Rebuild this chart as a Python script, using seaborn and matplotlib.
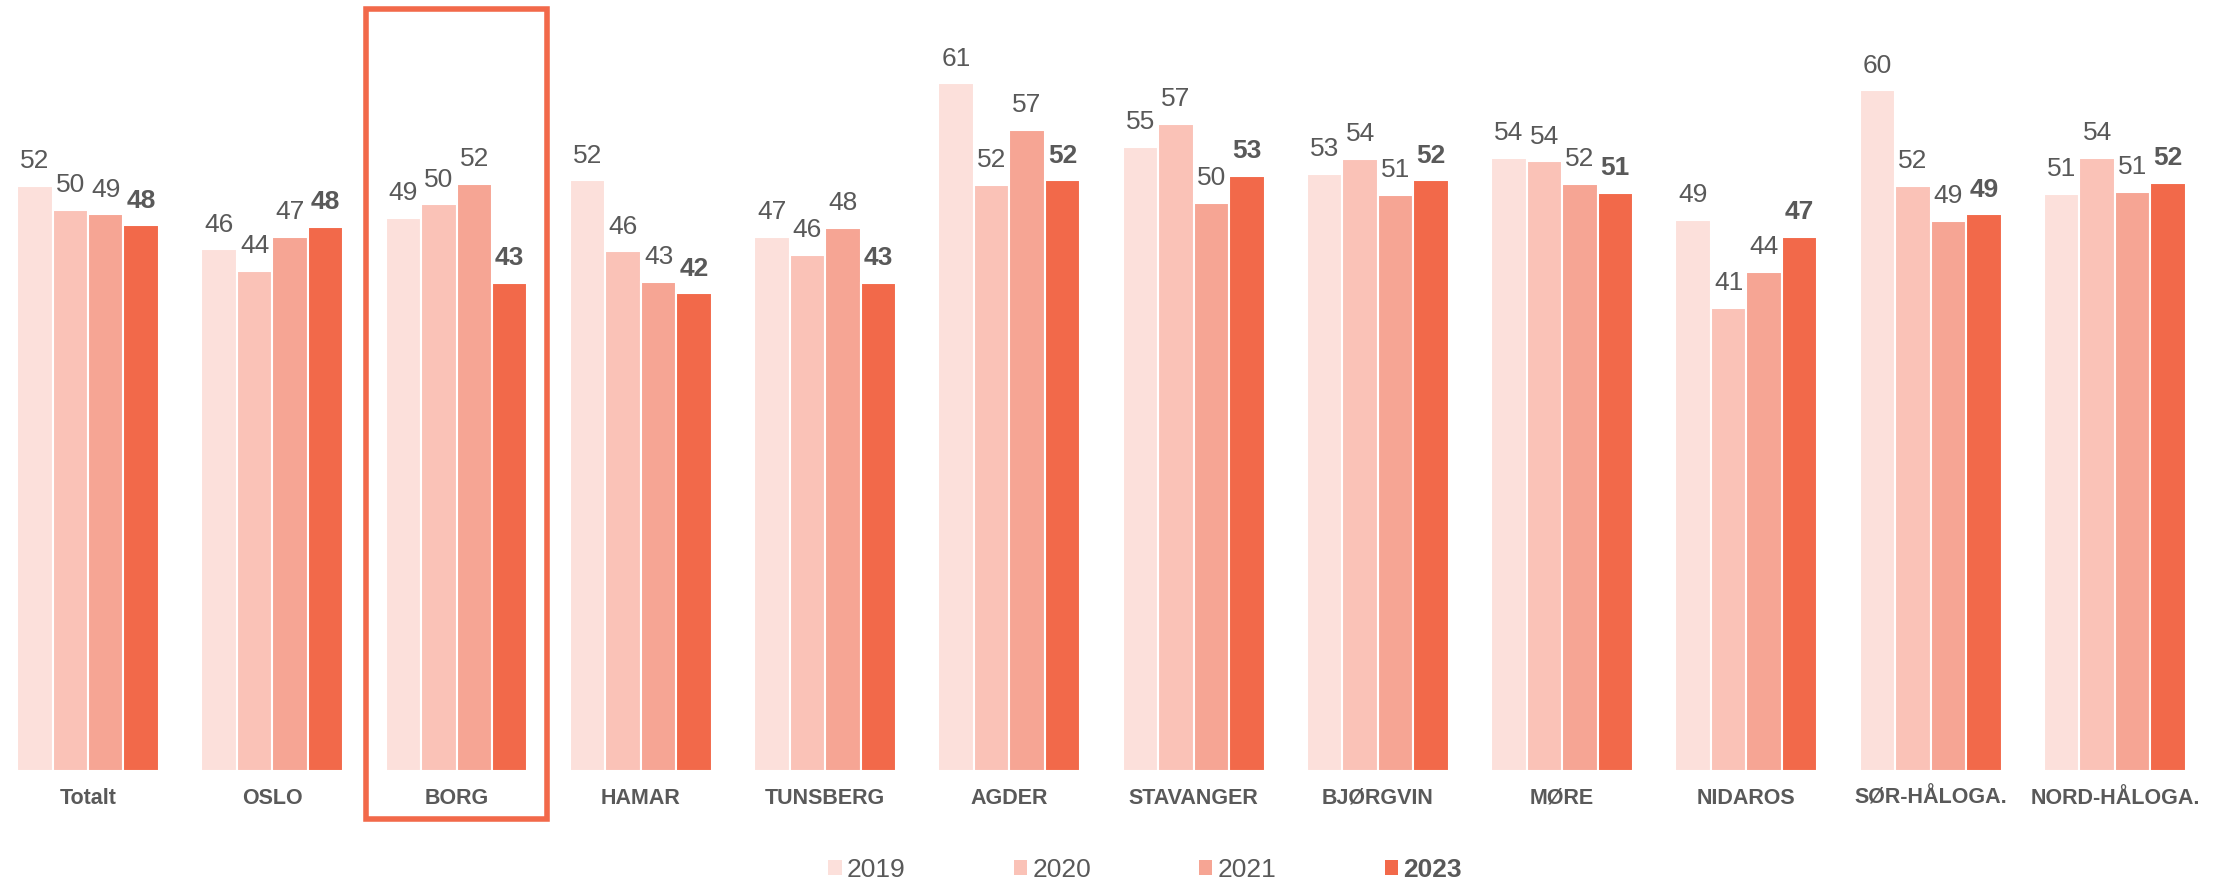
import numpy as np
import pandas as pd
import matplotlib
matplotlib.use("Agg")
import matplotlib.pyplot as plt
import seaborn as sns
from matplotlib.patches import Rectangle, Patch

# Data (bar heights estimated, labels are rounded)
dioceses = ["Totalt", "OSLO", "BORG", "HAMAR", "TUNSBERG", "AGDER", "STAVANGER",
            "BJØRGVIN", "MØRE", "NIDAROS", "SØR-HÅLOGA.", "NORD-HÅLOGA."]
years = ["2019", "2020", "2021", "2023"]
v2019 = [51.9, 46.3, 49.1, 52.4, 47.4, 61.0, 55.4, 53.0, 54.4, 48.9, 60.4, 51.2]
v2020 = [49.8, 44.4, 50.3, 46.1, 45.8, 52.0, 57.4, 54.3, 54.1, 41.1, 51.9, 54.4]
v2021 = [49.4, 47.4, 52.1, 43.4, 48.2, 56.9, 50.4, 51.1, 52.1, 44.3, 48.8, 51.4]
v2023 = [48.4, 48.3, 43.3, 42.4, 43.3, 52.4, 52.8, 52.4, 51.3, 47.4, 49.4, 52.2]
highlight = "BORG"

colors = ["#FCE0DB", "#FAC2B7", "#F6A594", "#F2694A"]
text_color = "#595959"

df = pd.DataFrame({"diocese": dioceses, "2019": v2019, "2020": v2020,
                   "2021": v2021, "2023": v2023})
long = df.melt(id_vars="diocese", var_name="year", value_name="value")

sns.set_style("white")
plt.rcParams["font.family"] = ["Liberation Sans", "DejaVu Sans"]

fig = plt.figure(figsize=(22.19, 8.81), dpi=100)
ax = fig.add_axes([0, 0.1249, 1, 0.8751])

sns.barplot(data=long, x="diocese", y="value", hue="year", order=dioceses,
            hue_order=years, palette=colors, width=0.77, edgecolor="white",
            linewidth=1.5, saturation=1, ax=ax, legend=False)

for i, cont in enumerate(ax.containers):
    labels = ax.bar_label(cont, fmt="%.0f", padding=9, fontsize=19, color=text_color)
    if years[i] == "2023":
        for t in labels:
            t.set_fontweight("bold")

ax.set_xlim(-0.4776, 11.565)
ax.set_ylim(0, 68.4)
ax.set_xlabel("")
ax.set_ylabel("")
ax.set_yticks([])
ax.tick_params(axis="x", length=0, pad=12)
for lbl in ax.get_xticklabels():
    lbl.set_fontweight("bold")
    lbl.set_fontsize(15.5)
    lbl.set_color(text_color)
sns.despine(ax=ax, left=True, bottom=True)

# Highlight box around one diocese
hx = dioceses.index(highlight)
box = Rectangle((hx - 0.49, -4.26), 0.98, 71.9, fill=False, edgecolor="#F2694A",
                linewidth=4, clip_on=False, zorder=5)
ax.add_patch(box)

handles = [Patch(facecolor=c, edgecolor="none") for c in colors]
leg = fig.legend(handles, years, loc="center", bbox_to_anchor=(0.516, 0.013),
                 ncol=4, frameon=False, fontsize=19, handlelength=0.5,
                 handleheight=0.5, handletextpad=0.2, columnspacing=4.1,
                 labelcolor=text_color)
leg.get_texts()[-1].set_fontweight("bold")

fig.savefig("out.png", dpi=100)
